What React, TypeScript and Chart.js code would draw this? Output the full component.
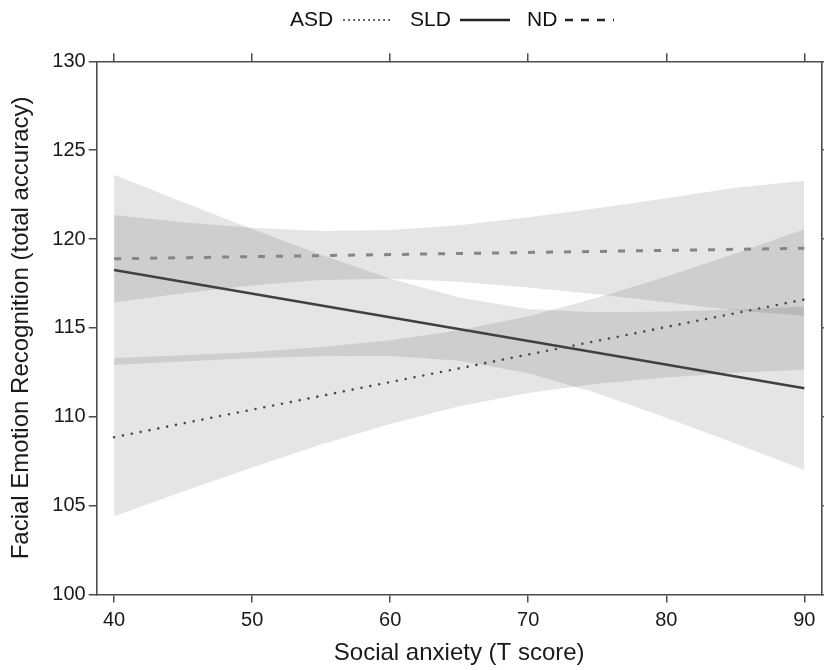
import React, { useEffect, useRef } from "react";
import { Chart, registerables } from "chart.js";

Chart.register(...registerables);

const FONT = '"Liberation Sans", Arial, Helvetica, sans-serif';

// Confidence bands
const bandX = [40, 45, 50, 55, 60, 65, 70, 75, 80, 85, 90];
const asdUpper = [113.3, 113.46, 113.65, 113.92, 114.3, 114.87, 115.66, 116.7, 117.89, 119.19, 120.55];
const asdLower = [104.4, 105.8, 107.15, 108.44, 109.6, 110.59, 111.34, 111.86, 112.21, 112.47, 112.65];
const sldUpper = [123.61, 122.07, 120.57, 119.11, 117.78, 116.71, 116.07, 115.88, 115.92, 116.04, 116.2];
const sldLower = [112.91, 113.11, 113.29, 113.41, 113.42, 113.15, 112.45, 111.32, 109.94, 108.5, 107.0];
const ndUpper = [121.35, 120.95, 120.63, 120.45, 120.51, 120.78, 121.22, 121.73, 122.29, 122.88, 123.28];
const ndLower = [116.43, 116.95, 117.39, 117.69, 117.76, 117.6, 117.28, 116.89, 116.45, 115.98, 115.68];

// Fitted lines
const lineX = [40, 90];
const asdFit = [108.85, 116.6];
const sldFit = [118.26, 111.6];
const ndFit = [118.89, 119.48];

const xTicks = [40, 50, 60, 70, 80, 90];
const yTicks = [100, 105, 110, 115, 120, 125, 130];
const groups = ["ASD", "SLD", "ND"];
const xTitle = "Social anxiety (T score)";
const yTitle = "Facial Emotion Recognition (total accuracy)";

const pts = (xs: number[], ys: number[]) => xs.map((x, i) => ({ x, y: ys[i] }));

const BAND = "rgba(0,0,0,0.10)";
const NONE = "rgba(0,0,0,0)";
const AXIS = "#4d4d4d";

const lineStyles = [
  { color: "#4a4a4a", width: 2.6, dash: [0.01, 9], cap: "round" },
  { color: "#404040", width: 2.5, dash: [], cap: "butt" },
  { color: "#858585", width: 3, dash: [7, 11], cap: "butt" },
];
const legendStyles = [
  { color: "#333", width: 2, dash: [0.01, 5], cap: "round" },
  { color: "#222", width: 2.5, dash: [], cap: "butt" },
  { color: "#222", width: 2.5, dash: [8, 8], cap: "butt" },
];
const legendLayout = [
  { tx: 290, lx0: 344, lx1: 393 },
  { tx: 410, lx0: 460, lx1: 510 },
  { tx: 527, lx0: 565, lx1: 614 },
];

const legendPlugin = {
  id: "textFirstLegend",
  afterDraw(chart: any) {
    const ctx = chart.ctx as CanvasRenderingContext2D;
    ctx.save();
    ctx.font = `21px ${FONT}`;
    ctx.fillStyle = "#111";
    ctx.textBaseline = "middle";
    ctx.textAlign = "left";
    const y = 20;
    groups.forEach((g, i) => {
      const L = legendLayout[i];
      const s = legendStyles[i];
      ctx.fillText(g, L.tx, y);
      ctx.beginPath();
      ctx.strokeStyle = s.color;
      ctx.lineWidth = s.width;
      ctx.setLineDash(s.dash);
      ctx.lineCap = s.cap as CanvasLineCap;
      ctx.moveTo(L.lx0, y);
      ctx.lineTo(L.lx1, y);
      ctx.stroke();
    });
    ctx.restore();
  },
};

const gridOpts = {
  drawOnChartArea: false,
  drawTicks: true,
  tickLength: 8,
  color: AXIS,
  lineWidth: 1.5,
};
const borderOpts = { color: AXIS, width: 1.6 };

export default function App() {
  const ref = useRef<HTMLCanvasElement>(null);
  useEffect(() => {
    if (!ref.current) return;
    const band = (label: string, data: number[], fill: any) => ({
      label,
      data: pts(bandX, data),
      xAxisID: "x",
      yAxisID: "y",
      borderColor: NONE,
      borderWidth: 0,
      backgroundColor: BAND,
      pointRadius: 0,
      fill,
      order: 2,
    });
    const fit = (label: string, data: number[], i: number) => ({
      label,
      data: pts(lineX, data),
      xAxisID: "x",
      yAxisID: "y",
      borderColor: lineStyles[i].color,
      borderWidth: lineStyles[i].width,
      borderDash: lineStyles[i].dash,
      borderCapStyle: lineStyles[i].cap,
      pointRadius: 0,
      fill: false,
      order: 1,
    });
    const chart = new Chart(ref.current, {
      type: "line",
      data: {
        datasets: [
          band("ASD upper", asdUpper, "+1"),
          band("ASD lower", asdLower, false),
          band("SLD upper", sldUpper, "+1"),
          band("SLD lower", sldLower, false),
          band("ND upper", ndUpper, "+1"),
          band("ND lower", ndLower, false),
          fit(groups[0], asdFit, 0),
          fit(groups[1], sldFit, 1),
          fit(groups[2], ndFit, 2),
        ] as any,
      },
      options: {
        animation: false,
        responsive: false,
        layout: { padding: 0 },
        plugins: { legend: { display: false }, title: { display: false }, tooltip: { enabled: false } },
        scales: {
          x: {
            type: "linear",
            position: "bottom",
            min: 38.74,
            max: 91.26,
            afterBuildTicks: (s: any) => {
              s.ticks = xTicks.map((v) => ({ value: v }));
            },
            afterFit: (s: any) => {
              s.height = 75.5;
            },
            grid: gridOpts,
            border: borderOpts,
            ticks: { color: "#1a1a1a", font: { family: FONT, size: 20 }, padding: 6, maxRotation: 0 },
            title: {
              display: true,
              text: xTitle,
              color: "#1a1a1a",
              font: { family: FONT, size: 24 },
              padding: { top: 0, bottom: 2 },
            },
          },
          x2: {
            type: "linear",
            position: "top",
            min: 38.74,
            max: 91.26,
            afterBuildTicks: (s: any) => {
              s.ticks = xTicks.map((v) => ({ value: v }));
            },
            afterFit: (s: any) => {
              s.height = 61.3;
            },
            grid: gridOpts,
            border: borderOpts,
            ticks: { display: false },
          },
          y: {
            type: "linear",
            position: "left",
            min: 100,
            max: 130,
            afterBuildTicks: (s: any) => {
              s.ticks = yTicks.map((v) => ({ value: v }));
            },
            afterFit: (s: any) => {
              s.width = 96.7;
            },
            grid: gridOpts,
            border: borderOpts,
            ticks: { color: "#1a1a1a", font: { family: FONT, size: 20 }, padding: 3 },
            title: {
              display: true,
              text: yTitle,
              color: "#1a1a1a",
              font: { family: FONT, size: 24 },
              padding: { top: 7, bottom: 0 },
            },
          },
          y2: {
            type: "linear",
            position: "right",
            min: 100,
            max: 130,
            afterBuildTicks: (s: any) => {
              s.ticks = yTicks.map((v) => ({ value: v }));
            },
            afterFit: (s: any) => {
              s.width = 2.3;
            },
            grid: gridOpts,
            border: borderOpts,
            ticks: { display: false },
          },
        },
      } as any,
      plugins: [legendPlugin],
    });
    return () => chart.destroy();
  }, []);

  return (
    <div style={{ position: "absolute", left: 0, top: 0, width: 824, height: 670, overflow: "hidden", background: "#fff" }}>
      <canvas ref={ref} width={824} height={670} style={{ display: "block" }} />
    </div>
  );
}
